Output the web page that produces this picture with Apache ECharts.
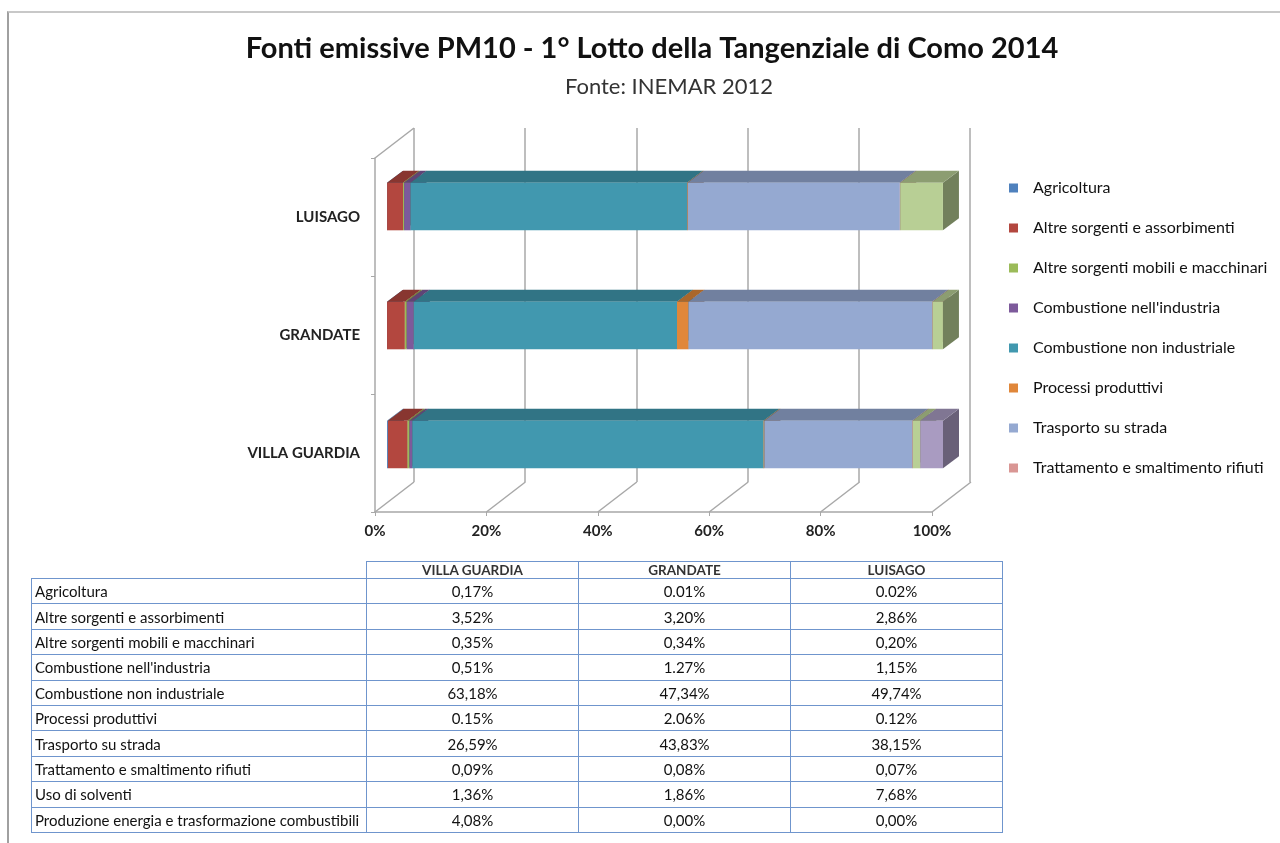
<!DOCTYPE html>
<html>
<head>
<meta charset="utf-8">
<script src="https://cdn.jsdelivr.net/npm/echarts@6/dist/echarts.min.js"></script>
<style>
  body { margin: 0; background: #fff; }
  #wrap { position: relative; width: 1280px; height: 843px; overflow: hidden; background: #fff; }
  #chart { position: absolute; left: 0; top: 0; width: 1280px; height: 843px; }
  #frame { position: absolute; left: 7px; top: 11px; width: 1400px; height: 1000px;
           border-left: 2px solid #a0a0a0; border-top: 2px solid #c8c8c8; pointer-events: none; }
  #tab { position: absolute; left: 31px; top: 561px; border-collapse: collapse; table-layout: fixed;
         font-family: Lato, "Open Sans", sans-serif; font-size: 15px; color: #111; }
  #tab td { border: 1.5px solid #6f95cd; height: 24.4px; padding: 0 3px; white-space: nowrap; overflow: hidden; }
  #tab td.v { text-align: center; }
  #tab tr.head td { height: 16px; line-height: 15px; font-size: 13.5px; font-weight: bold; color: #333; text-align: center; }
  #tab tr.head td.blank { border: none; }
</style>
</head>
<body>
<div id="wrap">
  <div id="chart"></div>
  <div id="frame"></div>
  <table id="tab"></table>
</div>
<script>
// sites, bottom to top on the chart, left to right in the table
const sites = ["VILLA GUARDIA", "GRANDATE", "LUISAGO"];

const sources = [
  "Agricoltura",
  "Altre sorgenti e assorbimenti",
  "Altre sorgenti mobili e macchinari",
  "Combustione nell'industria",
  "Combustione non industriale",
  "Processi produttivi",
  "Trasporto su strada",
  "Trattamento e smaltimento rifiuti",
  "Uso di solventi",
  "Produzione energia e trasformazione combustibili"
];

// percentages per source, one array per site
const villaGuardia = [0.17, 3.52, 0.35, 0.51, 63.18, 0.15, 26.59, 0.09, 1.36, 4.08];
const grandate     = [0.01, 3.20, 0.34, 1.27, 47.34, 2.06, 43.83, 0.08, 1.86, 0.00];
const luisago      = [0.02, 2.86, 0.20, 1.15, 49.74, 0.12, 38.15, 0.07, 7.68, 0.00];

const xTicks = [0, 20, 40, 60, 80, 100];

// cells written with a dot instead of a comma in the original table [row, col]
const dotCells = [[0, 1], [0, 2], [3, 1], [5, 0], [5, 1], [5, 2]];

const colors = ["#4f81bd", "#b3473f", "#9bbb59", "#7d5a9b", "#4198af",
                "#e0873a", "#95a9d1", "#d99694", "#b8cf95", "#a99bc1"];

const bySite = [villaGuardia, grandate, luisago];
const font = "Lato, 'Open Sans', sans-serif";
const DX = 16, DY = 12; // bar depth

function shade(hex, k) {
  const n = parseInt(hex.slice(1), 16);
  const r = Math.round(((n >> 16) & 255) * k);
  const g = Math.round(((n >> 8) & 255) * k);
  const b = Math.round((n & 255) * k);
  return "rgb(" + r + "," + g + "," + b + ")";
}

function renderBar(params, api) {
  const a = api.value(0), b = api.value(1), cat = api.value(2);
  if (b - a <= 0) return null;
  const p0 = api.coord([a, cat]);
  const p1 = api.coord([b, cat]);
  const h = api.size([0, 1])[1] * 0.4;
  const y0 = p0[1] - h / 2, y1 = p0[1] + h / 2;
  const x0 = p0[0], x1 = p1[0];
  const c = api.visual("color");
  return {
    type: "group",
    children: [
      { type: "polygon", shape: { points: [[x1, y0], [x1 + DX, y0 - DY], [x1 + DX, y1 - DY], [x1, y1]] },
        style: { fill: shade(c, 0.62) } },
      { type: "polygon", shape: { points: [[x0, y0], [x0 + DX, y0 - DY], [x1 + DX, y0 - DY], [x1, y0]] },
        style: { fill: shade(c, 0.76) } },
      { type: "rect", shape: { x: x0, y: y0, width: x1 - x0, height: h }, style: { fill: c } }
    ]
  };
}

// floor diagonals and the top edge of the left wall
function renderFloor(params, api) {
  const v = api.value(0);
  const band = api.size([0, 1])[1];
  const x = api.coord([v, 0])[0];
  const yb = api.coord([v, 0])[1] + band / 2;
  const yt = api.coord([v, sites.length - 1])[1] - band / 2;
  const st = { stroke: "#a8a8a8", lineWidth: 1.5 };
  const kids = [{ type: "line", shape: { x1: x, y1: yb, x2: x + 39, y2: yb - 30 }, style: st }];
  if (v === 0) kids.push({ type: "line", shape: { x1: x, y1: yt, x2: x + 39, y2: yt - 30 }, style: st });
  return { type: "group", children: kids };
}

const series = sources.map(function (name, i) {
  const data = sites.map(function (s, j) {
    let start = 0;
    for (let k = 0; k < i; k++) start += bySite[j][k];
    return [start, start + bySite[j][i], j];
  });
  return {
    name: name,
    type: "custom",
    xAxisIndex: 0,
    yAxisIndex: 0,
    itemStyle: { color: colors[i] },
    encode: { x: [0, 1], y: 2 },
    renderItem: renderBar,
    data: data
  };
});

series.push({
  type: "custom",
  xAxisIndex: 1,
  yAxisIndex: 1,
  silent: true,
  encode: { x: 0 },
  renderItem: renderFloor,
  data: xTicks.map(function (v) { return [v]; })
});

const chart = echarts.init(document.getElementById("chart"));
chart.setOption({
  animation: false,
  title: [
    { text: "Fonti emissive PM10 - 1° Lotto della Tangenziale di Como 2014", left: 647, top: 29, textAlign: "center",
      textStyle: { fontFamily: font, fontSize: 29, fontWeight: "bold", color: "#111" } },
    { text: "Fonte: INEMAR 2012", left: 664, top: 71, textAlign: "center",
      textStyle: { fontFamily: font, fontSize: 22, fontWeight: "normal", color: "#333" } }
  ],
  legend: {
    data: sources.slice(0, 8),
    orient: "vertical",
    left: 1004,
    top: 174,
    icon: "rect",
    itemWidth: 9,
    itemHeight: 9,
    itemGap: 22,
    textStyle: { fontFamily: font, fontSize: 16, color: "#111", lineHeight: 18, padding: [0, 0, 0, 10] }
  },
  grid: [
    { left: 387, top: 147, width: 556, height: 357 },
    { left: 375, top: 158, width: 557, height: 354 },
    { left: 414, top: 128, width: 556, height: 354 }
  ],
  xAxis: [
    { type: "value", gridIndex: 0, min: 0, max: 100, show: false },
    { type: "value", gridIndex: 1, min: 0, max: 100, interval: 20,
      axisLine: { show: true, lineStyle: { color: "#a8a8a8", width: 1.5 } },
      axisTick: { show: true, length: 4, lineStyle: { color: "#a8a8a8" } },
      splitLine: { show: false },
      axisLabel: { formatter: "{value}%", margin: 12, fontFamily: font, fontSize: 15, fontWeight: "bold", color: "#222" } },
    { type: "value", gridIndex: 2, min: 0, max: 100, interval: 20,
      axisLine: { show: false }, axisTick: { show: false }, axisLabel: { show: false },
      splitLine: { show: true, lineStyle: { color: "#a8a8a8", width: 1.5 } } }
  ],
  yAxis: [
    { type: "category", gridIndex: 0, data: sites, show: false },
    { type: "category", gridIndex: 1, data: sites,
      axisLine: { show: true, lineStyle: { color: "#a8a8a8", width: 1.5 } },
      axisTick: { show: true, length: 4, lineStyle: { color: "#a8a8a8" } },
      axisLabel: { margin: 15, fontFamily: font, fontSize: 15, fontWeight: "bold", color: "#222" } },
    { type: "value", gridIndex: 2, show: false }
  ],
  series: series
});

// data table under the chart
function cellText(v, r, c) {
  let s = v.toFixed(2) + "%";
  const dot = dotCells.some(function (d) { return d[0] === r && d[1] === c; });
  return dot ? s : s.replace(".", ",");
}
const tab = document.getElementById("tab");
let html = '<colgroup><col style="width:335px"><col style="width:212px"><col style="width:212px"><col style="width:212px"></colgroup>';
html += '<tr class="head"><td class="blank"></td>' + sites.map(function (s) { return "<td>" + s + "</td>"; }).join("") + "</tr>";
sources.forEach(function (name, r) {
  html += "<tr><td>" + name + "</td>" + bySite.map(function (arr, c) {
    return '<td class="v">' + cellText(arr[r], r, c) + "</td>";
  }).join("") + "</tr>";
});
tab.innerHTML = html;
</script>
</body>
</html>
